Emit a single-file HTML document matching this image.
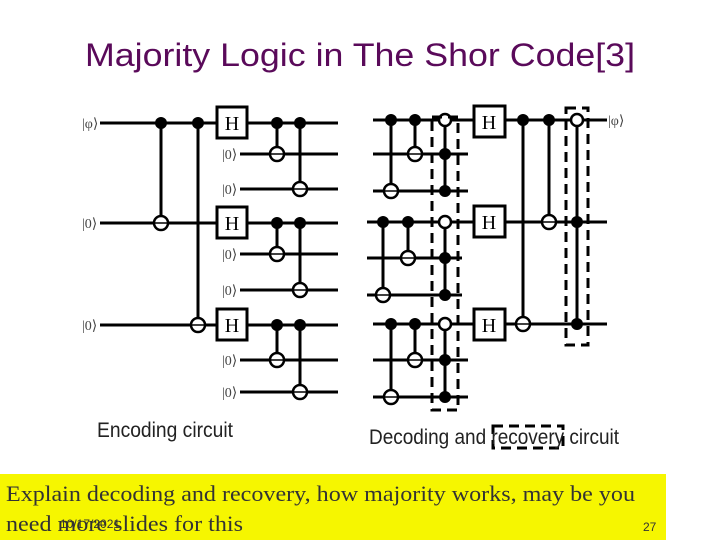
<!DOCTYPE html>
<html><head><meta charset="utf-8"><style>
html,body{margin:0;padding:0;background:#fff;width:720px;height:540px;overflow:hidden}
</style></head><body>
<svg width="720" height="540" viewBox="0 0 720 540" xmlns="http://www.w3.org/2000/svg">
<text x="85" y="66" font-family="Liberation Sans, sans-serif" font-size="32" fill="#5a0a5a" textLength="550" lengthAdjust="spacingAndGlyphs">Majority Logic in The Shor Code[3]</text>

<g stroke="#000" stroke-width="3" fill="none">
<line x1="100" y1="123" x2="338" y2="123"/>
<line x1="100" y1="223" x2="338" y2="223"/>
<line x1="100" y1="325" x2="338" y2="325"/>
<line x1="240" y1="154" x2="338" y2="154"/>
<line x1="240" y1="189" x2="338" y2="189"/>
<line x1="240" y1="254" x2="338" y2="254"/>
<line x1="240" y1="290" x2="338" y2="290"/>
<line x1="240" y1="360" x2="338" y2="360"/>
<line x1="240" y1="392" x2="338" y2="392"/>
<line x1="161" y1="123" x2="161" y2="223"/>
<line x1="198" y1="123" x2="198" y2="325"/>
<line x1="277" y1="123" x2="277" y2="154"/>
<line x1="300" y1="123" x2="300" y2="189"/>
<line x1="277" y1="223" x2="277" y2="254"/>
<line x1="300" y1="223" x2="300" y2="290"/>
<line x1="277" y1="325" x2="277" y2="360"/>
<line x1="300" y1="325" x2="300" y2="392"/>

<line x1="373" y1="120" x2="607" y2="120"/>
<line x1="373" y1="154" x2="468" y2="154"/>
<line x1="373" y1="191" x2="468" y2="191"/>
<line x1="367" y1="222" x2="607" y2="222"/>
<line x1="367" y1="258" x2="462" y2="258"/>
<line x1="367" y1="295" x2="462" y2="295"/>
<line x1="373" y1="324" x2="607" y2="324"/>
<line x1="373" y1="360" x2="468" y2="360"/>
<line x1="373" y1="397" x2="468" y2="397"/>
<line x1="391" y1="120" x2="391" y2="191"/>
<line x1="415" y1="120" x2="415" y2="154"/>
<line x1="445" y1="120" x2="445" y2="191"/>
<line x1="383" y1="222" x2="383" y2="295"/>
<line x1="408" y1="222" x2="408" y2="258"/>
<line x1="445" y1="222" x2="445" y2="295"/>
<line x1="391" y1="324" x2="391" y2="397"/>
<line x1="415" y1="324" x2="415" y2="360"/>
<line x1="445" y1="324" x2="445" y2="397"/>
<line x1="523" y1="120" x2="523" y2="324"/>
<line x1="549" y1="120" x2="549" y2="222"/>
<line x1="577" y1="120" x2="577" y2="324"/>
</g>

<g stroke="#000" stroke-width="3" fill="#fff">
<rect x="217" y="107" width="30" height="31"/>
<rect x="217" y="207" width="30" height="31"/>
<rect x="217" y="309" width="30" height="31"/>
<rect x="474" y="106" width="31" height="31"/>
<rect x="474" y="206" width="31" height="31"/>
<rect x="474" y="309" width="31" height="31"/>
</g>
<g font-family="Liberation Serif, serif" font-size="20" fill="#000" text-anchor="middle">
<text x="232" y="130">H</text><text x="232" y="230">H</text><text x="232" y="332">H</text>
<text x="489" y="129">H</text><text x="489" y="229">H</text><text x="489" y="332">H</text>
</g>

<g fill="#000">
<circle cx="161" cy="123" r="6"/><circle cx="198" cy="123" r="6"/>
<circle cx="277" cy="123" r="6"/><circle cx="300" cy="123" r="6"/>
<circle cx="277" cy="223" r="6"/><circle cx="300" cy="223" r="6"/>
<circle cx="277" cy="325" r="6"/><circle cx="300" cy="325" r="6"/>
<circle cx="391" cy="120" r="6"/><circle cx="415" cy="120" r="6"/>
<circle cx="445" cy="154" r="6"/><circle cx="445" cy="191" r="6"/>
<circle cx="383" cy="222" r="6"/><circle cx="408" cy="222" r="6"/>
<circle cx="445" cy="258" r="6"/><circle cx="445" cy="295" r="6"/>
<circle cx="391" cy="324" r="6"/><circle cx="415" cy="324" r="6"/>
<circle cx="445" cy="360" r="6"/><circle cx="445" cy="397" r="6"/>
<circle cx="523" cy="120" r="6"/><circle cx="549" cy="120" r="6"/>
<circle cx="577" cy="222" r="6"/><circle cx="577" cy="324" r="6"/>
</g>

<g stroke="#000" stroke-width="2.5" fill="#fff">
<circle cx="161" cy="223" r="7"/><circle cx="198" cy="325" r="7"/>
<circle cx="277" cy="154" r="7"/><circle cx="300" cy="189" r="7"/>
<circle cx="277" cy="254" r="7"/><circle cx="300" cy="290" r="7"/>
<circle cx="277" cy="360" r="7"/><circle cx="300" cy="392" r="7"/>
<circle cx="391" cy="191" r="7"/><circle cx="415" cy="154" r="7"/>
<circle cx="445" cy="120" r="6"/>
<circle cx="383" cy="295" r="7"/><circle cx="408" cy="258" r="7"/>
<circle cx="445" cy="222" r="6"/>
<circle cx="391" cy="397" r="7"/><circle cx="415" cy="360" r="7"/>
<circle cx="445" cy="324" r="6"/>
<circle cx="523" cy="324" r="7"/><circle cx="549" cy="222" r="7"/>
<circle cx="577" cy="120" r="6"/>
</g>
<g stroke="#000" stroke-width="1.5">
<line x1="154" y1="223" x2="168" y2="223"/><line x1="191" y1="325" x2="205" y2="325"/>
<line x1="270" y1="154" x2="284" y2="154"/><line x1="293" y1="189" x2="307" y2="189"/>
<line x1="270" y1="254" x2="284" y2="254"/><line x1="293" y1="290" x2="307" y2="290"/>
<line x1="270" y1="360" x2="284" y2="360"/><line x1="293" y1="392" x2="307" y2="392"/>
<line x1="384" y1="191" x2="398" y2="191"/><line x1="408" y1="154" x2="422" y2="154"/>
<line x1="376" y1="295" x2="390" y2="295"/><line x1="401" y1="258" x2="415" y2="258"/>
<line x1="384" y1="397" x2="398" y2="397"/><line x1="408" y1="360" x2="422" y2="360"/>
<line x1="516" y1="324" x2="530" y2="324"/><line x1="542" y1="222" x2="556" y2="222"/>
</g>

<g stroke="#000" stroke-width="3" fill="none" stroke-dasharray="10,6">
<rect x="432" y="117" width="26" height="293"/>
<rect x="566" y="108" width="22" height="237"/>
<rect x="493" y="426" width="70" height="22"/>
</g>

<g font-family="Liberation Serif, serif" font-size="14" fill="#444">
<text x="82" y="128">|φ⟩</text>
<text x="82" y="228">|0⟩</text>
<text x="82" y="330">|0⟩</text>
<text x="222" y="159">|0⟩</text><text x="222" y="194">|0⟩</text>
<text x="222" y="259">|0⟩</text><text x="222" y="295">|0⟩</text>
<text x="222" y="365">|0⟩</text><text x="222" y="397">|0⟩</text>
<text x="608" y="125">|φ⟩</text>
</g>

<g font-family="Liberation Sans, sans-serif" font-size="21" fill="#222">
<text x="97" y="437" textLength="136" lengthAdjust="spacingAndGlyphs">Encoding circuit</text>
<text x="369" y="444" textLength="250" lengthAdjust="spacingAndGlyphs">Decoding and recovery circuit</text>
</g>

<rect x="0" y="474" width="666" height="66" fill="#f6f600"/>
<g font-family="Liberation Serif, serif" font-size="22" fill="#333">
<text x="6" y="501" textLength="629" lengthAdjust="spacingAndGlyphs">Explain decoding and recovery, how majority works, may be you</text>
<text x="6" y="531" textLength="237" lengthAdjust="spacingAndGlyphs">need more slides for this</text>
</g>
<text x="60" y="528" font-family="Liberation Sans, sans-serif" font-size="12" fill="#333">10/17/2021</text>
<text x="643" y="531" font-family="Liberation Sans, sans-serif" font-size="12" fill="#333">27</text>
</svg>
</body></html>
